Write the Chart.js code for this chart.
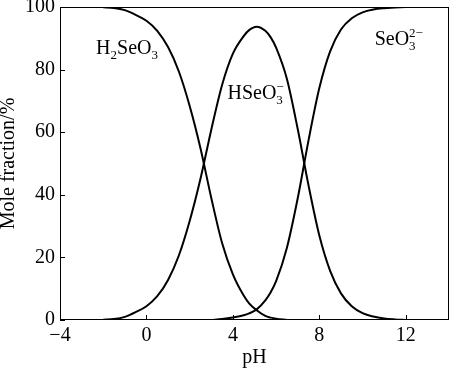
<!DOCTYPE html>
<html>
<head>
<meta charset="utf-8">
<script src="https://cdn.jsdelivr.net/npm/chart.js@4.4.1/dist/chart.umd.min.js"></script>
<style>
  html, body { margin: 0; padding: 0; background: #fff; }
  canvas { display: block; }
</style>
</head>
<body>
<canvas id="myChart" width="450" height="373"></canvas>
<script>
// values (mole fraction, %)
const pH = [-2, -1.5, -1, -0.5, 0, 0.5, 1, 1.5, 2, 2.5, 3, 3.5, 4, 4.5, 4.75, 5.1, 5.5, 5.75, 6, 6.5, 7, 7.5, 8, 8.5, 9, 9.5, 10, 10.5, 11, 11.5, 12];
const h2seo3 = [99.9, 99.7, 99.0, 97.5, 95.6, 92.4, 87.2, 79.4, 68.4, 54.9, 39.0, 24.6, 14.6, 7.8, 5.3, 3.1, 1.3, 0.75, 0.4, 0, null, null, null, null, null, null, null, null, null, null, null];
const hseo3 = [0.1, 0.3, 1.0, 2.5, 4.4, 7.6, 12.8, 20.6, 31.6, 45.1, 60.8, 75.1, 85.1, 90.7, 92.6, 93.7, 92.4, 90.3, 87.0, 77.0, 61.0, 43.0, 27.0, 15.7, 8.5, 4.4, 2.2, 1.1, 0.5, 0.2, 0];
const seo3 = [null, null, null, null, null, null, null, null, null, null, 0, 0.3, 0.8, 1.5, 2.1, 3.4, 6.3, 8.9, 12.4, 23.1, 38.9, 57.4, 74.1, 85.8, 92.8, 96.4, 98.3, 99.2, 99.6, 99.8, 100];
const xTicks = [-4, 0, 4, 8, 12];
const yTicks = [0, 20, 40, 60, 80, 100];

const serif = "'Times New Roman', 'Liberation Serif', serif";

function points(ys) {
  return pH.map((x, i) => ({ x: x, y: ys[i] }));
}

// species labels: text parts, anchored in data units
const speciesLabels = [
  { x: -2.33, y: 85, parts: [{ t: 'H' }, { sub: '2' }, { t: 'SeO' }, { sub: '3' }] },
  { x: 3.75, y: 70.5, parts: [{ t: 'HSeO' }, { sub: '3', sup: '\u2212' }] },
  { x: 10.56, y: 88, parts: [{ t: 'SeO' }, { sub: '3', sup: '2\u2212' }] }
];

function drawChem(ctx, x, y, parts) {
  ctx.save();
  ctx.fillStyle = '#000';
  ctx.textBaseline = 'alphabetic';
  ctx.textAlign = 'left';
  parts.forEach(p => {
    if (p.t) {
      ctx.font = '20px ' + serif;
      ctx.fillText(p.t, x, y);
      x += ctx.measureText(p.t).width;
    } else {
      ctx.font = '13px ' + serif;
      let w = 0;
      if (p.sub) { ctx.fillText(p.sub, x, y + 5); w = ctx.measureText(p.sub).width; }
      if (p.sup) { ctx.fillText(p.sup, x, y - 8); w = Math.max(w, ctx.measureText(p.sup).width); }
      x += w;
    }
  });
  ctx.restore();
}

// frame, inward ticks and species labels
const framePlugin = {
  id: 'frame',
  afterDatasetsDraw(chart) {
    const ctx = chart.ctx;
    const a = chart.chartArea;
    const xs = chart.scales.x, ys = chart.scales.y;
    ctx.save();
    ctx.strokeStyle = '#000';
    ctx.lineWidth = 1;
    ctx.strokeRect(a.left + 0.5, a.top + 0.5, a.right - a.left - 1, a.bottom - a.top - 1);
    ctx.beginPath();
    xTicks.forEach(v => {
      const px = Math.round(xs.getPixelForValue(v)) + 0.5;
      ctx.moveTo(px, a.bottom);
      ctx.lineTo(px, a.bottom - 5);
    });
    yTicks.forEach(v => {
      const py = Math.round(ys.getPixelForValue(v)) + 0.5;
      ctx.moveTo(a.left, py);
      ctx.lineTo(a.left + 5, py);
    });
    ctx.stroke();
    ctx.restore();
    speciesLabels.forEach(l => {
      drawChem(ctx, xs.getPixelForValue(l.x), ys.getPixelForValue(l.y), l.parts);
    });
  }
};

const lineStyle = {
  borderColor: '#000',
  borderWidth: 2,
  pointRadius: 0,
  fill: false,
  cubicInterpolationMode: 'monotone',
  spanGaps: false
};

new Chart(document.getElementById('myChart'), {
  type: 'line',
  data: {
    datasets: [
      Object.assign({ label: 'H2SeO3', data: points(h2seo3) }, lineStyle),
      Object.assign({ label: 'HSeO3-', data: points(hseo3) }, lineStyle),
      Object.assign({ label: 'SeO3 2-', data: points(seo3) }, lineStyle)
    ]
  },
  options: {
    responsive: false,
    animation: false,
    devicePixelRatio: 1,
    layout: { padding: { top: 7, right: 1, bottom: 0, left: 0 } },
    plugins: {
      legend: { display: false },
      tooltip: { enabled: false }
    },
    scales: {
      x: {
        type: 'linear',
        min: -4,
        max: 14,
        grid: { display: false, drawTicks: false },
        border: { display: false },
        afterBuildTicks: s => { s.ticks = xTicks.map(v => ({ value: v })); },
        afterFit: s => { s.height = 53; s.paddingLeft = 0; s.paddingRight = 0; },
        ticks: {
          autoSkip: false,
          maxRotation: 0,
          padding: 4,
          color: '#000',
          font: { family: serif, size: 20 },
          callback: v => v < 0 ? '\u2212' + Math.abs(v) : String(v)
        },
        title: {
          display: true,
          text: 'pH',
          color: '#000',
          font: { family: serif, size: 20, lineHeight: 1.2 },
          padding: { top: 0, bottom: 3.5 }
        }
      },
      y: {
        min: 0,
        max: 100,
        grid: { display: false, drawTicks: false },
        border: { display: false },
        afterBuildTicks: s => { s.ticks = yTicks.map(v => ({ value: v })); },
        afterFit: s => { s.width = 60; s.paddingTop = 0; s.paddingBottom = 0; },
        ticks: {
          autoSkip: false,
          padding: 5,
          color: '#000',
          font: { family: serif, size: 20 }
        },
        title: {
          display: true,
          text: 'Mole fraction/%',
          color: '#000',
          font: { family: serif, size: 20, lineHeight: 1 },
          padding: { top: -1.5, bottom: 0 }
        }
      }
    }
  },
  plugins: [framePlugin]
});
</script>
</body>
</html>
